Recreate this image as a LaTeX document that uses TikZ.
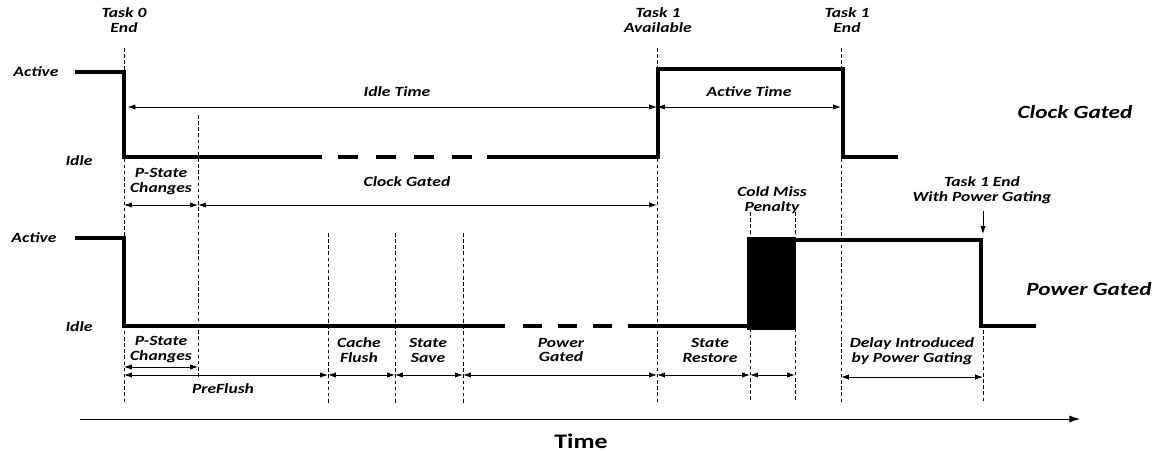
\documentclass[tikz,border=0pt]{standalone}
\usepackage{fontspec}
\setmainfont{Carlito}[FakeStretch=1.25]
\usetikzlibrary{arrows.meta}
\newcommand\lblfont{\bfseries\itshape\fontsize{8}{8.5}\selectfont}
\begin{document}
\begin{tikzpicture}[x=0.02cm,y=-0.02cm,
        lbl/.style={font=\lblfont,align=center,inner sep=0pt},
        big/.style={font=\bfseries\itshape\fontsize{10.6}{12}\selectfont,inner sep=0pt},
        sig/.style={line width=2.6pt},
        guide/.style={line width=0.55pt,dash pattern=on 2pt off 1.5pt},
        dim/.style={line width=0.5pt,{Latex[length=4.5pt,width=3pt]}-{Latex[length=4.5pt,width=3pt]}}]
    \useasboundingbox (0,0) rectangle (1157,452);
    \foreach \n/\x in {a/124,b/198,c/328,d/395,e/463,f/657,g/750,h/795,i/841,j/983} {
            \coordinate (\n1) at (\x,107);
            \coordinate (\n2) at (\x,205);
            \coordinate (\n3) at (\x,367);
            \coordinate (\n4) at (\x,375);
            \coordinate (\n5) at (\x,377);
        }
    \foreach \x/\ya/\yb in {124/48/403,198/115/377,328/233/403,395/233/403,463/233/403,
            657/48/403,750/212/400,795/212/400,841/48/403,983/330/403} {
            \draw[guide] (\x,\ya) -- (\x,\yb);
        }
    \draw[sig] (75,72) -| (124,157) -- (322,157);
    \foreach \x in {338,376,414,452} {
            \draw[sig] (\x,157) -- ++(20,0);
        }
    \draw[sig] (487,157) -| (658,69) -| (843,157) -- (898,157);
    \draw[sig] (75,238) -| (124,326) -- (505,326);
    \foreach \x in {523,558,593} {
            \draw[sig] (\x,326) -- ++(19,0);
        }
    \draw[sig] (628,326) -- (750,326);
    \fill (747,237) rectangle (796,330);
    \draw[sig] (795,240) -| (981,326) -- (1036,326);
    \node[lbl] (t0end) at (124,20) {Task 0\\End};
    \node[lbl] (t1av) at (658,20) {Task 1\\Available};
    \node[lbl] (t1end) at (847,20) {Task 1\\End};
    \node[lbl] (act1) at (36,72) {Active};
    \node[lbl] (idl1) at (79,161) {Idle};
    \node[lbl] (act2) at (34,238) {Active};
    \node[lbl] (idl2) at (79,327) {Idle};
    \node[big] (cg) at (1075,112) {Clock Gated};
    \node[big] (pg) at (1089,289) {Power Gated};
    \node[lbl] (idlet) at (397,92) {Idle Time};
    \node[lbl] (actt) at (749,92) {Active Time};
    \node[lbl] (ps1) at (161,182) {P-State\\Changes};
    \node[lbl] (cgt) at (407,182) {Clock Gated};
    \node[lbl] (cmp) at (772,200) {Cold Miss\\Penalty};
    \node[lbl] (tpg) at (982,190) {Task 1 End\\With Power Gating};
    \node[lbl] (ps2) at (161,350) {P-State\\Changes};
    \node[lbl] (pre) at (223,389) {PreFlush};
    \node[lbl] (cf) at (359,350) {Cache\\Flush};
    \node[lbl] (ss) at (428,350) {State\\Save};
    \node[lbl] (pgt) at (561,350) {Power\\Gated};
    \node[lbl] (sr) at (710,350) {State\\Restore};
    \node[lbl] (dly) at (912,351) {Delay Introduced\\by Power Gating};
    \node[font=\bfseries\fontsize{11.8}{13}\selectfont,inner sep=0pt] (time) at (581,441) {Time};
    \draw[dim,shorten <=2pt] (a1) -- (f1);
    \draw[dim] (f1) -- (i1);
    \draw[dim] (a2) -- (b2);
    \draw[dim] (b2) -- (f2);
    \draw[dim] (a3) -- (b3);
    \draw[dim] (a4) -- (c4);
    \draw[dim] (c4) -- (d4);
    \draw[dim] (d4) -- (e4);
    \draw[dim] (e4) -- (f4);
    \draw[dim] (f4) -- (g4);
    \draw[dim] (g4) -- (h4);
    \draw[dim] (i5) -- (j5);
    \coordinate (pgend) at (983,234);
    \draw[line width=0.5pt,-{Latex[length=4.5pt,width=3pt]},shorten <=4pt] (tpg.south -| pgend) -- (pgend);
    \coordinate (ts) at (80,419);
    \coordinate (te) at (1080,419);
    \draw[line width=0.5pt,-{Latex[length=6pt,width=4pt]}] (ts) -- (te);
\end{tikzpicture}
\end{document}
